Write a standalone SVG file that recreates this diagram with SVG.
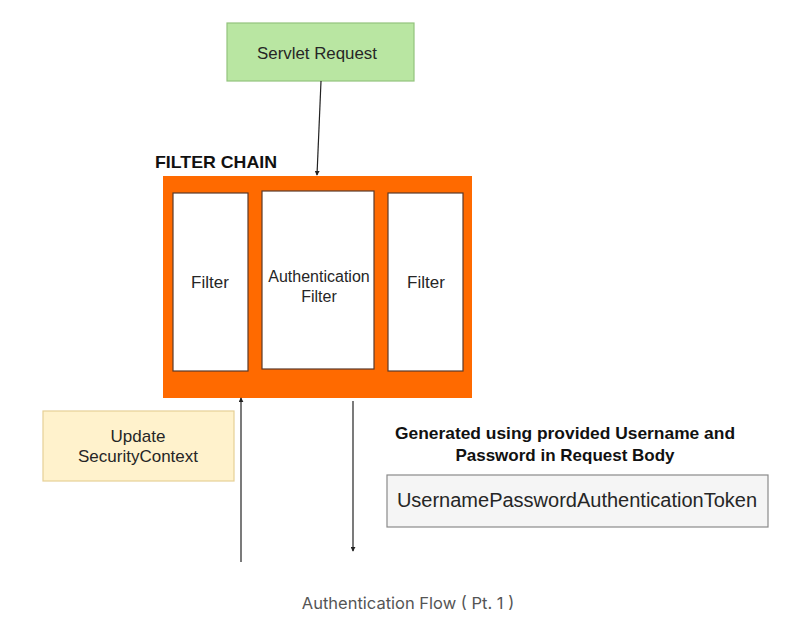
<svg xmlns="http://www.w3.org/2000/svg" width="801" height="632" viewBox="0 0 801 632">
<defs>
<style>
.t{font-family:"Liberation Sans",Arial,sans-serif;fill:#262626;text-anchor:middle}
.b{font-weight:bold;fill:#111}
.ln{stroke:#222;stroke-width:1.2;fill:none}
</style>
<marker id="ah" viewBox="0 0 6 6" refX="5" refY="3" markerWidth="5" markerHeight="5" orient="auto" markerUnits="userSpaceOnUse">
<path d="M0,0L6,3L0,6Z" fill="#222"/>
</marker>
</defs>
<rect width="801" height="632" fill="#fff"/>
<g id="servlet-request">
<rect x="227" y="23" width="187" height="58" fill="#b9e6a2" stroke="#93c47d" stroke-width="1.2"/>
<text class="t" x="317" y="59" font-size="16.8" textLength="120" lengthAdjust="spacingAndGlyphs">Servlet Request</text>
</g>
<g id="filter-chain">
<text class="t b" x="155" y="168" font-size="17" style="text-anchor:start" textLength="122" lengthAdjust="spacingAndGlyphs">FILTER CHAIN</text>
<rect x="163" y="176" width="309" height="222" fill="#ff6a00"/>
</g>
<g id="filter-1">
<rect x="173" y="193" width="75" height="178" fill="#fff" stroke="#5a3a2a" stroke-width="1.2"/>
<text class="t" x="210" y="288" font-size="17">Filter</text>
</g>
<g id="authentication-filter">
<rect x="262" y="191" width="112" height="178" fill="#fff" stroke="#5a3a2a" stroke-width="1.2"/>
<text class="t" x="319" y="282" font-size="16">Authentication</text>
<text class="t" x="319" y="302" font-size="16">Filter</text>
</g>
<g id="filter-2">
<rect x="388" y="193" width="75" height="178" fill="#fff" stroke="#5a3a2a" stroke-width="1.2"/>
<text class="t" x="426" y="288" font-size="17">Filter</text>
</g>
<g id="update-security-context">
<rect x="43" y="411" width="191" height="70" fill="#fff2cc" stroke="#e6d096" stroke-width="1.2"/>
<text class="t" x="138" y="442" font-size="17">Update</text>
<text class="t" x="138" y="462" font-size="17">SecurityContext</text>
</g>
<g id="generated-note">
<text class="t b" x="565" y="439" font-size="17" textLength="340" lengthAdjust="spacingAndGlyphs">Generated using provided Username and</text>
<text class="t b" x="565" y="461" font-size="17">Password in Request Body</text>
</g>
<g id="token">
<rect x="387" y="475" width="381" height="52" fill="#f5f5f5" stroke="#8a8a8a" stroke-width="1.2"/>
<text class="t" x="577" y="507" font-size="20">UsernamePasswordAuthenticationToken</text>
</g>
<g id="connectors">
<line class="ln" x1="321" y1="81" x2="317" y2="175" marker-end="url(#ah)"/>
<line class="ln" x1="241" y1="562" x2="241" y2="398" marker-end="url(#ah)"/>
<line class="ln" x1="353" y1="401" x2="353" y2="551" marker-end="url(#ah)"/>
</g>
<text x="408" y="609" font-family="Inter,'Noto Sans',sans-serif" font-size="16.5" fill="#555" text-anchor="middle">Authentication Flow ( Pt. 1 )</text>
</svg>
